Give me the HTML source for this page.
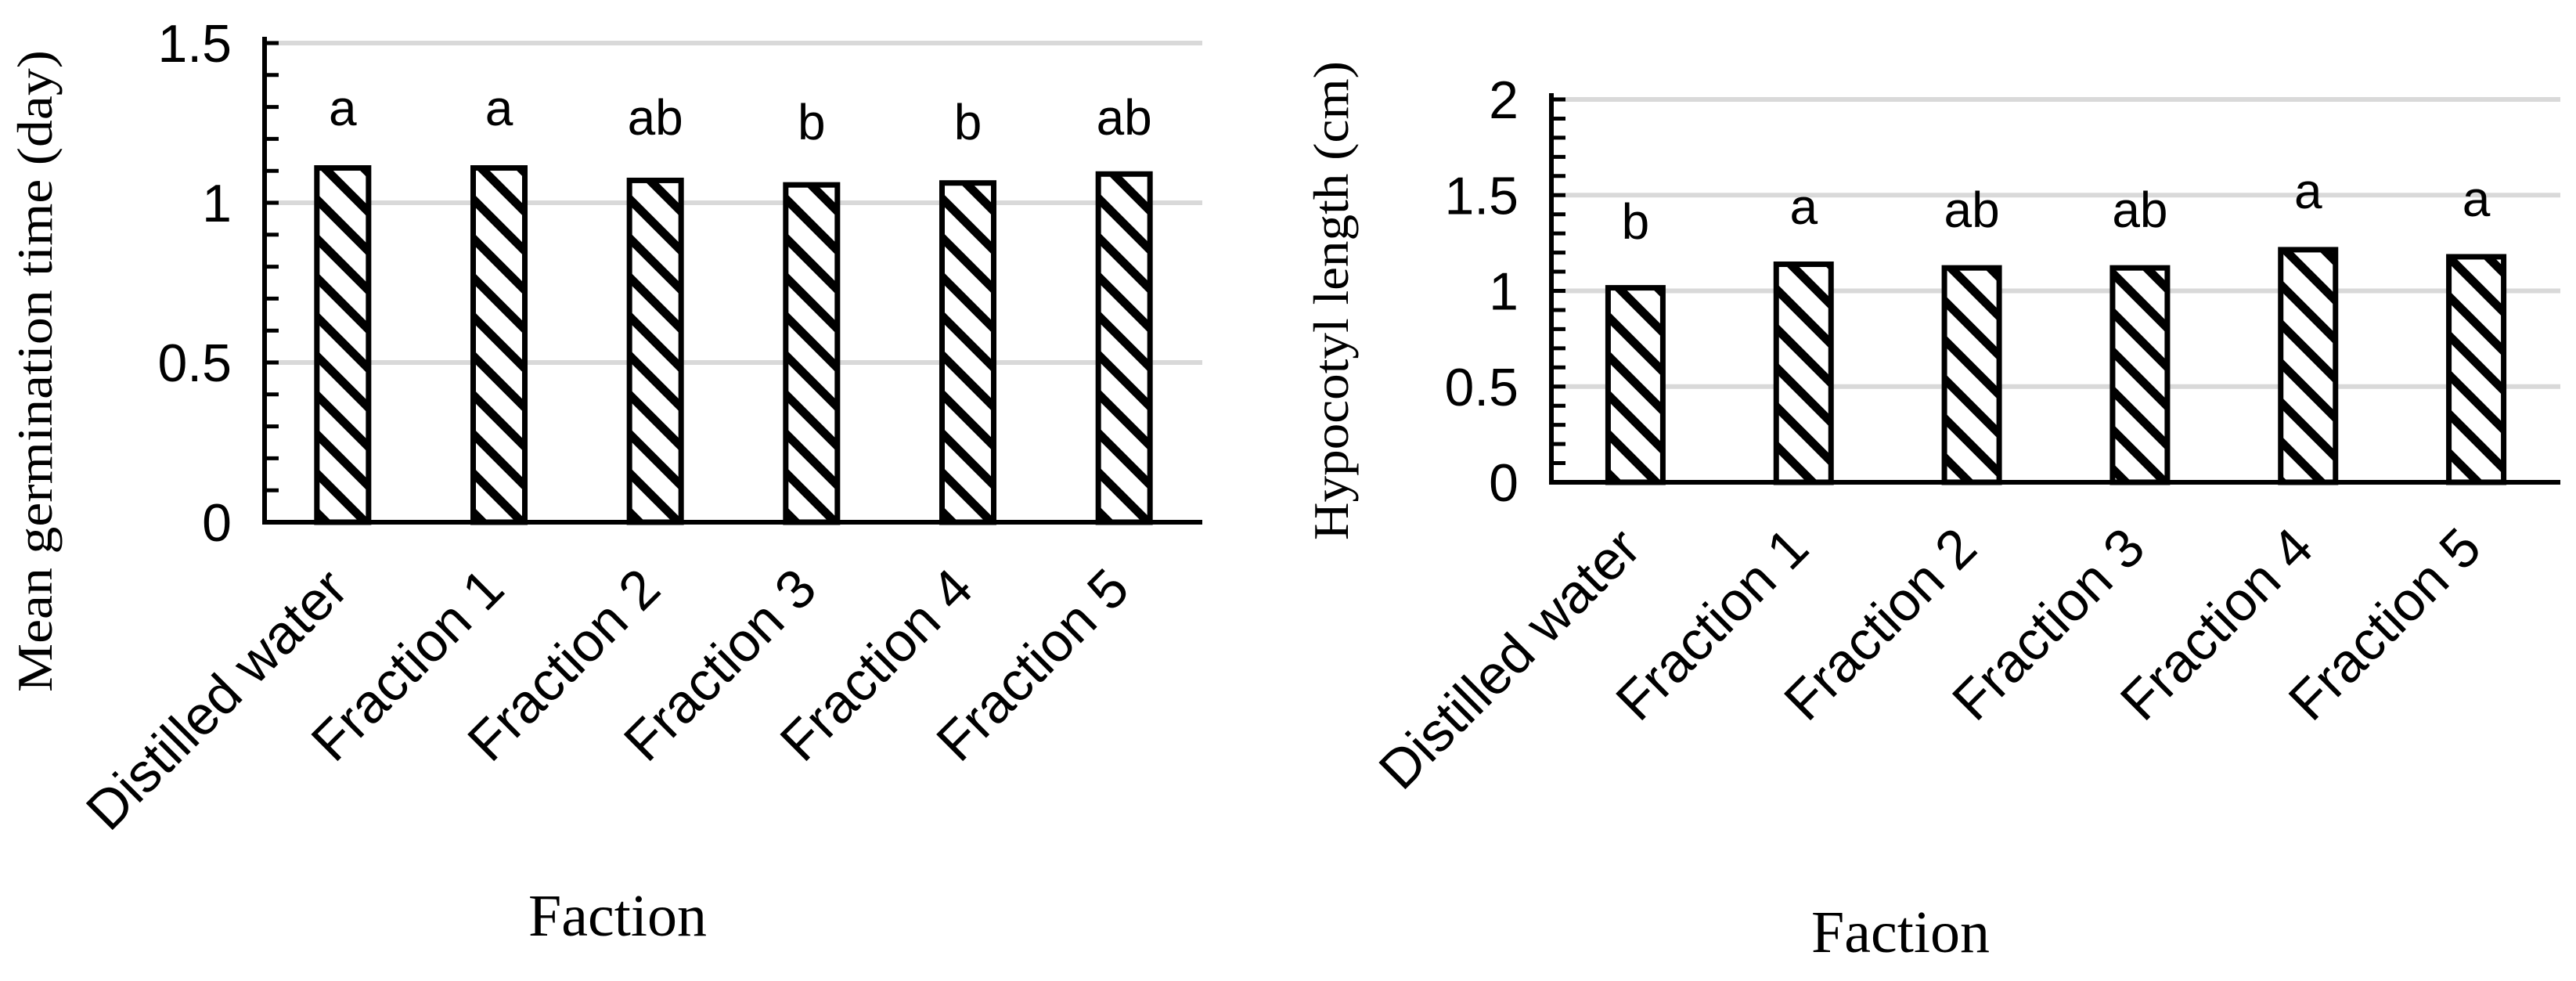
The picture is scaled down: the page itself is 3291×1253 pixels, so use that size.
<!DOCTYPE html>
<html><head><meta charset="utf-8">
<style>
html,body{margin:0;padding:0;background:#fff;}
svg{display:block;}
.tick{font-family:"Liberation Sans",sans-serif;font-size:68px;fill:#000;}
.lab{font-family:"Liberation Sans",sans-serif;font-size:64px;fill:#000;}
.xlab{font-family:"Liberation Sans",sans-serif;font-size:70px;fill:#000;}
.ttl{font-family:"Liberation Serif",serif;font-size:64px;fill:#000;}
.xttl{font-family:"Liberation Serif",serif;font-size:76px;fill:#000;}
</style></head>
<body>
<svg id="chart" width="3291" height="1253" viewBox="0 0 3291 1253" xmlns="http://www.w3.org/2000/svg">
<defs>
<pattern id="hatch" patternUnits="userSpaceOnUse" width="50" height="50">
<rect width="50" height="50" fill="#fff"/>
<path d="M-10,-10 L60,60 M-10,40 L10,60 M40,-10 L60,10" stroke="#000" stroke-width="11"/>
</pattern>
</defs>
</svg>
<script>
const categories = ["Distilled water","Fraction 1","Fraction 2","Fraction 3","Fraction 4","Fraction 5"];
const mgtValues = [1.109, 1.109, 1.07, 1.056, 1.062, 1.09];
const mgtLetters = ["a","a","ab","b","b","ab"];
const mgtTicks = ["0","0.5","1","1.5"];
const hypValues = [1.016, 1.139, 1.12, 1.12, 1.215, 1.178];
const hypLetters = ["b","a","ab","ab","a","a"];
const hypTicks = ["0","0.5","1","1.5","2"];

const NS = "http://www.w3.org/2000/svg";
const svg = document.getElementById("chart");
function mk(tag, attrs, parent){
  const e = document.createElementNS(NS, tag);
  for (const k in attrs) e.setAttribute(k, attrs[k]);
  (parent||svg).appendChild(e);
  return e;
}

function drawChart(cfg){
  const g = mk("g", {});
  
  
  const x0 = cfg.x0, x1 = cfg.x1, y0 = cfg.y0, yTop = cfg.yTop, vmax = cfg.vmax;
  const yScale = v => y0 - (v / vmax) * (y0 - yTop);
  const band = (x1 - x0) / categories.length;
  const xCenter = i => x0 + band * (i + 0.5);

  cfg.ticks.forEach(t => {
    const v = parseFloat(t);
    if (v > 0) {
      const gl = mk("line", {x1: x0, x2: x1, y1: yScale(v), y2: yScale(v), stroke: "#d9d9d9", "stroke-width": 6}, g);
      
      
    }
    const tl = mk("text", {x: x0 - 42, y: yScale(v) + 24, "text-anchor": "end", class: "tick"}, g);
    tl.textContent = t;
    
    
  });
  const nMinor = Math.round(vmax / 0.1);
  for (let k = 1; k <= nMinor; k++) {
    const y = yScale(k * 0.1);
    const mt = mk("line", {x1: x0, x2: x0 + 18, y1: y, y2: y, stroke: "#000", "stroke-width": 5}, g);
    
    
  }
  cfg.values.forEach((v, i) => {
    const cx = xCenter(i), w = cfg.barW;
    const b = mk("rect", {x: cx - w/2, y: yScale(v), width: w, height: y0 - yScale(v), fill: "url(#hatch)", stroke: "#000", "stroke-width": 7}, g);
    
    
    const lt = mk("text", {x: cx, y: cfg.letterY[i], "text-anchor": "middle", class: "lab"}, g);
    lt.textContent = cfg.letters[i];
    
    
    const xl = mk("text", {x: 0, y: 0, "text-anchor": "end", class: "xlab",
      transform: "translate(" + (cx + 10) + "," + (cfg.labelY + 44) + ") rotate(-45)"}, g);
    xl.textContent = categories[i];
    
    
  });
  const ya = mk("line", {x1: x0, x2: x0, y1: yTop - 8, y2: y0, stroke: "#000", "stroke-width": 6}, g);
  
  
  const xa = mk("line", {x1: x0 - 3, x2: x1, y1: y0, y2: y0, stroke: "#000", "stroke-width": 6}, g);
  
  
  const yt = mk("text", {x: 0, y: 0, "text-anchor": "middle", class: "ttl",
    transform: "translate(" + (cfg.ytX) + "," + cfg.ytY + ") rotate(-90)", textLength: cfg.ytLen, lengthAdjust: "spacingAndGlyphs"}, g);
  yt.textContent = cfg.yTitle;
  
  
  const xt = mk("text", {x: cfg.xtX, y: cfg.xtY, "text-anchor": "middle", class: "xttl"}, g);
  xt.textContent = "Faction";
  
  
}

drawChart({name: "mean-germination-chart", x0: 338, x1: 1536, y0: 667, yTop: 55, vmax: 1.5,
  ticks: mgtTicks, values: mgtValues, letters: mgtLetters, barW: 66,
  letterY: [160,160,172,178,178,172], labelY: 712,
  yTitle: "Mean germination time (day)", ytX: 66, ytY: 474, ytLen: 820,
  xtX: 789, xtY: 1195});

drawChart({name: "hypocotyl-length-chart", x0: 1982, x1: 3271, y0: 616, yTop: 127, vmax: 2,
  ticks: hypTicks, values: hypValues, letters: hypLetters, barW: 70,
  letterY: [305,286,290,290,266,276], labelY: 660,
  yTitle: "Hypocotyl length (cm)", ytX: 1722, ytY: 384, ytLen: 612,
  xtX: 2428, xtY: 1216});
</script>
</body></html>
